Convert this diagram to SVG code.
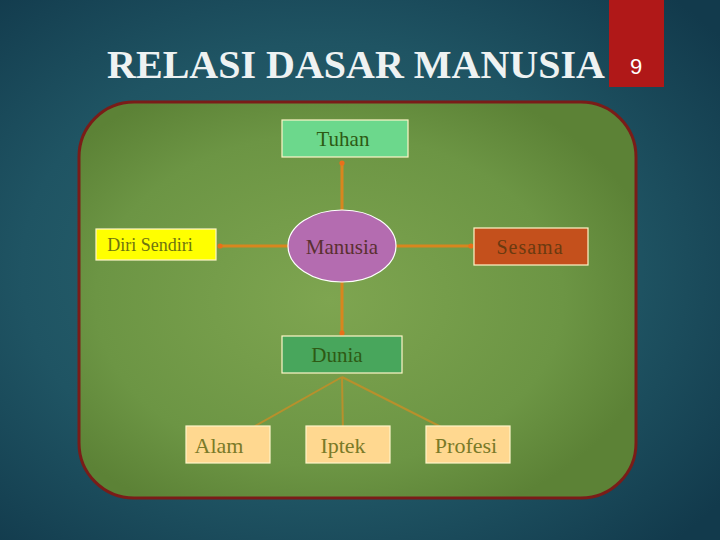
<svg xmlns="http://www.w3.org/2000/svg" width="720" height="540" viewBox="0 0 720 540">
<defs>
<radialGradient id="bg" cx="0.45" cy="0.5" r="0.7">
<stop offset="0" stop-color="#2c6a72"/>
<stop offset="0.6" stop-color="#1f5463"/>
<stop offset="1" stop-color="#123a4c"/>
</radialGradient>
<radialGradient id="panel" cx="0.45" cy="0.5" r="0.6">
<stop offset="0" stop-color="#7ea550"/>
<stop offset="0.7" stop-color="#6c9544"/>
<stop offset="1" stop-color="#5c8236"/>
</radialGradient>
<marker id="dot" markerWidth="6" markerHeight="6" refX="3" refY="3" markerUnits="userSpaceOnUse">
<circle cx="3" cy="3" r="2.6" fill="#e8701a"/>
</marker>
<style>
.lbl{font-family:"Liberation Serif","Times New Roman",serif;text-anchor:middle}
.box{stroke:#fff6c8;stroke-width:1.2}
.main{stroke:#d8861e;stroke-width:3;fill:none;marker-end:url(#dot)}
.tree{stroke:#b8902c;stroke-width:2;fill:none}
</style>
</defs>
<rect width="720" height="540" fill="url(#bg)"/>
<g id="title">
<text x="356" y="78" class="lbl" font-size="40" font-weight="bold" fill="#eef2f2">RELASI DASAR MANUSIA</text>
</g>
<g id="page-number">
<rect x="609" y="0" width="55" height="87" fill="#b01818"/>
<text x="636" y="74" font-family="Liberation Sans, Arial, sans-serif" font-size="22" fill="#ffffff" text-anchor="middle">9</text>
</g>
<g id="panel-bg">
<rect x="79" y="102" width="557" height="396" rx="55" ry="55" fill="url(#panel)" stroke="#7a1c18" stroke-width="3"/>
</g>
<g id="connectors">
<line x1="342" y1="211" x2="342" y2="163" class="main"/>
<line x1="288" y1="246" x2="220" y2="246" class="main"/>
<line x1="396" y1="246" x2="471" y2="246" class="main"/>
<line x1="342" y1="282" x2="342" y2="333" class="main"/>
<line x1="342" y1="377" x2="241" y2="434" class="tree"/>
<line x1="342" y1="377" x2="343" y2="434" class="tree"/>
<line x1="342" y1="377" x2="455" y2="434" class="tree"/>
</g>
<g id="tuhan">
<rect x="282" y="120" width="126" height="37" fill="#6cd88c" class="box"/>
<text x="343" y="146" class="lbl" font-size="21" fill="#2e5a14">Tuhan</text>
</g>
<g id="diri-sendiri">
<rect x="96" y="229" width="120" height="31" fill="#ffff00" class="box"/>
<text x="150" y="251" class="lbl" font-size="18" fill="#6e7410">Diri Sendiri</text>
</g>
<g id="manusia">
<ellipse cx="342" cy="246" rx="54" ry="36" fill="#b46cb0" stroke="#ffffff" stroke-width="1.2"/>
<text x="342" y="254" class="lbl" font-size="21" fill="#5a3030">Manusia</text>
</g>
<g id="sesama">
<rect x="474" y="228" width="114" height="37" fill="#c4501c" class="box"/>
<text x="530" y="254" class="lbl" font-size="20" letter-spacing="1" fill="#6a3a10">Sesama</text>
</g>
<g id="dunia">
<rect x="282" y="336" width="120" height="37" fill="#48a65c" class="box"/>
<text x="337" y="362" class="lbl" font-size="21" fill="#2e5a14">Dunia</text>
</g>
<g id="alam">
<rect x="186" y="426" width="84" height="37" fill="#ffd890" class="box"/>
<text x="219" y="453" class="lbl" font-size="22" fill="#7a7a28">Alam</text>
</g>
<g id="iptek">
<rect x="306" y="426" width="84" height="37" fill="#ffd890" class="box"/>
<text x="343" y="453" class="lbl" font-size="22" fill="#7a7a28">Iptek</text>
</g>
<g id="profesi">
<rect x="426" y="426" width="84" height="37" fill="#ffd890" class="box"/>
<text x="466" y="453" class="lbl" font-size="22" fill="#7a7a28">Profesi</text>
</g>
</svg>
